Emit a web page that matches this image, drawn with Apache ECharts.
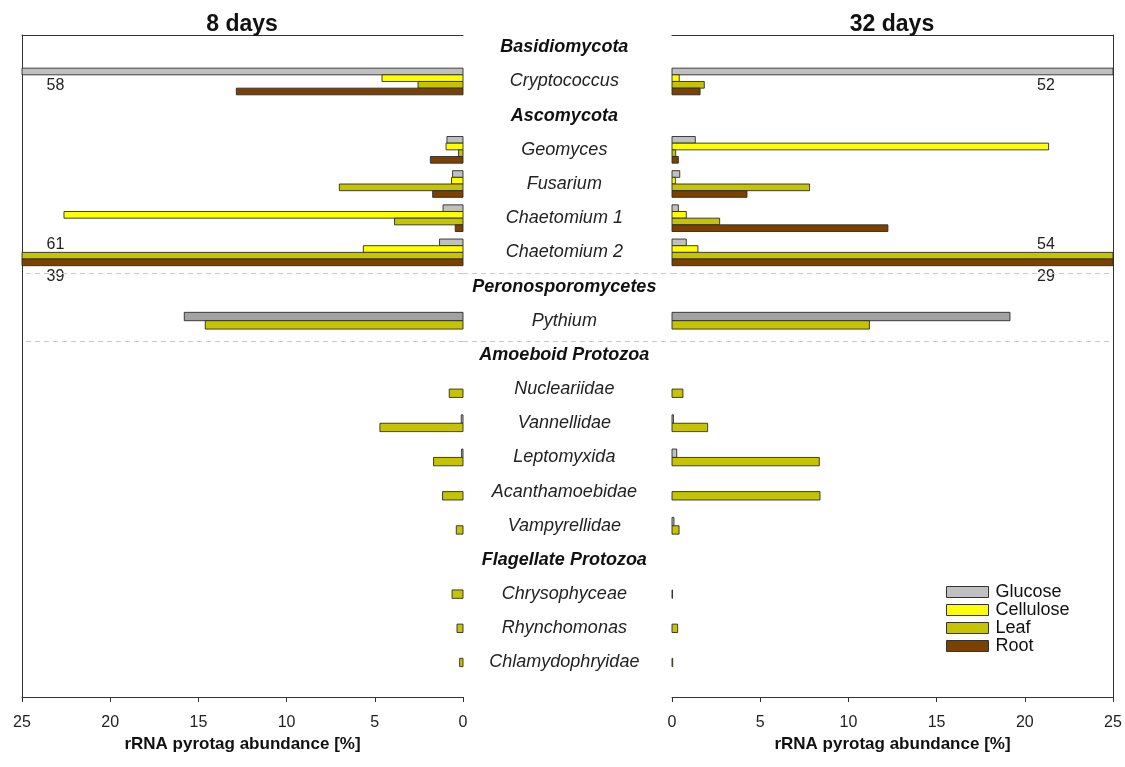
<!DOCTYPE html>
<html><head><meta charset="utf-8">
<script src="https://cdn.jsdelivr.net/npm/echarts/dist/echarts.min.js"></script>
<style>html,body{margin:0;padding:0;background:#fff}#chart{width:1125px;height:767px}</style>
</head><body><div id="chart"></div>
<script>
// ---------------- DATA ----------------
const categories = ['Basidiomycota','Cryptococcus','Ascomycota','Geomyces','Fusarium','Chaetomium 1','Chaetomium 2',
  'Peronosporomycetes','Pythium','Amoeboid Protozoa','Nucleariidae','Vannellidae','Leptomyxida','Acanthamoebidae',
  'Vampyrellidae','Flagellate Protozoa','Chrysophyceae','Rhynchomonas','Chlamydophryidae'];
const headerRows = ['Basidiomycota','Ascomycota','Peronosporomycetes','Amoeboid Protozoa','Flagellate Protozoa'];
const treatments = ['Glucose','Cellulose','Leaf','Root'];
const panelTitles = ['8 days','32 days'];
const axisTitle = 'rRNA pyrotag abundance [%]';
const separatorsAfter = ['Chaetomium 2','Pythium'];

// 8 days (null = not shown for this taxon)
const glucose8   = [null, 58, null, 0.91, 0.59, 1.13, 1.33, null, 15.8, null, 0, 0.10, 0.08, 0, 0, null, null, null, null];
const cellulose8 = [null, 4.59, null, 0.96, 0.65, 22.62, 5.65, null, null, null, null, null, null, null, null, null, null, null, null];
const leaf8      = [null, 2.55, null, 0.25, 7.01, 3.88, 61, null, 14.61, null, 0.78, 4.71, 1.67, 1.16, 0.38, null, 0.62, 0.34, 0.19];
const root8      = [null, 12.85, null, 1.85, 1.72, 0.44, 39, null, null, null, null, null, null, null, null, null, null, null, null];
// 32 days
const glucose32   = [null, 52, null, 1.32, 0.44, 0.36, 0.81, null, 19.16, null, 0, 0.08, 0.27, 0, 0.11, null, null, null, null];
const cellulose32 = [null, 0.41, null, 21.35, 0.19, 0.81, 1.47, null, null, null, null, null, null, null, null, null, null, null, null];
const leaf32      = [null, 1.83, null, 0.21, 7.8, 2.7, 54, null, 11.19, null, 0.62, 2.02, 8.35, 8.39, 0.4, null, 0.03, 0.32, 0.04];
const root32      = [null, 1.59, null, 0.36, 4.25, 12.24, 29, null, null, null, null, null, null, null, null, null, null, null, null];

// ---------------- STYLE ----------------
const F = 'Liberation Sans, Arial, sans-serif';
const AXIS_MAX = 25;
const YMIN = -0.36, YMAX = 19.01;
const colors = {Glucose:'#c0c0c0', Cellulose:'#ffff00', Leaf:'#c6c300', Root:'#7a4100'};
const colorOverride = {Glucose: {Pythium: '#a2a2a2'}};
const SEP_OFFSET = 0.6;
const overflowLabelAt = [23.1, 21.2];

const panels = [
  {Glucose: glucose8, Cellulose: cellulose8, Leaf: leaf8, Root: root8},
  {Glucose: glucose32, Cellulose: cellulose32, Leaf: leaf32, Root: root32}
];

function buildData(vals) {
  const out = treatments.map(() => []);
  categories.forEach((c, i) => {
    const present = treatments.filter(t => vals[t][i] !== null);
    present.forEach((t, slot) => {
      const v = vals[t][i];
      const next = present[slot + 1];
      const dir = (next && vals[next][i] > AXIS_MAX) ? -1 : 1;
      out[treatments.indexOf(t)].push([v, i, slot, present.length, dir]);
    });
  });
  return out;
}

function barRenderer(side, tName) {
  return function (params, api) {
    const v = api.value(0), row = api.value(1), slot = api.value(2), n = api.value(3), dir = api.value(4);
    const unit = api.size([0, 1])[1];
    const thick = Math.min(0.78 * unit / n, 0.245 * unit);
    const base = api.coord([0, row]);
    const y0 = base[1] - n * thick / 2 + slot * thick;
    const children = [];
    if (v > 0) {
      const end = api.coord([Math.min(v, AXIS_MAX), row])[0];
      const ov = colorOverride[tName] && colorOverride[tName][categories[row]];
      children.push({type: 'rect',
        shape: {x: Math.min(base[0], end), y: y0, width: Math.abs(end - base[0]), height: thick},
        style: {fill: ov || colors[tName], stroke: '#2b2b2b', lineWidth: 0.9}});
      if (v > AXIS_MAX) {
        const lx = api.coord([overflowLabelAt[side], row])[0];
        const ly = y0 + thick / 2 + (dir < 0 ? -11 : 14.5);
        children.push({type: 'text', x: lx, y: ly,
          style: {text: String(v), font: '16px ' + F, fill: '#222', textAlign: 'center', textVerticalAlign: 'middle', align: 'center', verticalAlign: 'middle'}});
      }
    }
    return {type: 'group', children};
  };
}

const sepLine = {
  silent: true, symbol: ['none', 'none'], label: {show: false},
  lineStyle: {type: [5, 4], color: '#c8c8c8', width: 1},
  data: separatorsAfter.map(name => ({yAxis: categories.indexOf(name) + SEP_OFFSET}))
};

const grids = [
  {left: 22, width: 441, top: 35, height: 662, containLabel: false, outerBoundsMode: 'none'},
  {left: 672, width: 441, top: 35, height: 662, containLabel: false, outerBoundsMode: 'none'},
  {left: 463, width: 209, top: 35, height: 662, containLabel: false, outerBoundsMode: 'none'}
];

const lineCol = '#333';
function mainX(gi, inverse) {
  return {gridIndex: gi, type: 'value', min: 0, max: AXIS_MAX, interval: 5, inverse: inverse, position: 'bottom',
    axisLine: {show: true, onZero: false, lineStyle: {color: lineCol, width: 1}},
    axisTick: {show: true, length: 5, inside: false, lineStyle: {color: lineCol}},
    axisLabel: {margin: 18, fontSize: 16, color: '#222', fontFamily: F},
    splitLine: {show: false},
    name: axisTitle, nameLocation: 'middle', nameGap: 39,
    nameTextStyle: {fontWeight: 'bold', fontSize: 17, color: '#111', fontFamily: F}};
}
function frameX(gi, inverse) {
  return {gridIndex: gi, type: 'value', min: 0, max: AXIS_MAX, inverse: inverse, position: 'top',
    axisLine: {show: true, onZero: false, lineStyle: {color: lineCol, width: 1}},
    axisTick: {show: false}, axisLabel: {show: false}, splitLine: {show: false}};
}
function frameY(gi, pos, show) {
  return {gridIndex: gi, type: 'value', min: YMIN, max: YMAX, inverse: true, position: pos, show: show,
    axisLine: {show: true, onZero: false, lineStyle: {color: lineCol, width: 1}},
    axisTick: {show: false}, axisLabel: {show: false}, splitLine: {show: false}};
}

const xAxes = [mainX(0, true), mainX(1, false), frameX(0, true), frameX(1, false),
  {gridIndex: 2, type: 'value', min: 0, max: 1, show: false, splitLine: {show: false}}];
const yAxes = [frameY(0, 'left', true), frameY(1, 'right', true), frameY(2, 'left', false)];

const series = [];
panels.forEach((vals, side) => {
  const dataByT = buildData(vals);
  treatments.forEach((t, ti) => {
    const s = {
      type: 'custom', name: t, xAxisIndex: side, yAxisIndex: side,
      coordinateSystem: 'cartesian2d', clip: false,
      itemStyle: {color: colors[t], borderColor: '#333', borderWidth: 1},
      encode: {x: 0, y: 1},
      renderItem: barRenderer(side, t),
      data: dataByT[ti], z: 3
    };
    if (ti === 0) s.markLine = sepLine;
    series.push(s);
  });
});

series.push({
  type: 'custom', name: 'labels', xAxisIndex: 4, yAxisIndex: 2, coordinateSystem: 'cartesian2d', clip: false,
  encode: {x: 0, y: 1},
  data: categories.map((c, i) => [0.485, i]),
  markLine: sepLine,
  renderItem: function (params, api) {
    const i = api.value(1);
    const p = api.coord([api.value(0), i]);
    const name = categories[i];
    const isH = headerRows.indexOf(name) >= 0;
    return {type: 'text', x: p[0], y: p[1],
      style: {text: name, font: (isH ? 'italic bold ' : 'italic ') + '18px ' + F, fill: isH ? '#111' : '#222',
        textAlign: 'center', textVerticalAlign: 'middle', align: 'center', verticalAlign: 'middle'}};
  }
});

const chart = echarts.init(document.getElementById('chart'), null, {renderer: 'canvas'});
chart.setOption({
  animation: false,
  backgroundColor: '#fff',
  title: [
    {text: panelTitles[0], left: 242, top: 13, textAlign: 'center', padding: 0,
      textStyle: {fontSize: 23, fontWeight: 'bold', color: '#111', fontFamily: F}},
    {text: panelTitles[1], left: 892, top: 13, textAlign: 'center', padding: 0,
      textStyle: {fontSize: 23, fontWeight: 'bold', color: '#111', fontFamily: F}}
  ],
  legend: {data: treatments, orient: 'vertical', left: 946, top: 583, padding: 0,
    itemWidth: 42, itemHeight: 11, itemGap: 0, icon: 'rect', selectedMode: false,
    itemStyle: {borderColor: '#333', borderWidth: 1},
    textStyle: {fontSize: 18, color: '#111', fontFamily: F, lineHeight: 17.5, padding: [0, 0, 0, 2]}},
  grid: grids,
  xAxis: xAxes,
  yAxis: yAxes,
  series: series
});
</script>
</body></html>
